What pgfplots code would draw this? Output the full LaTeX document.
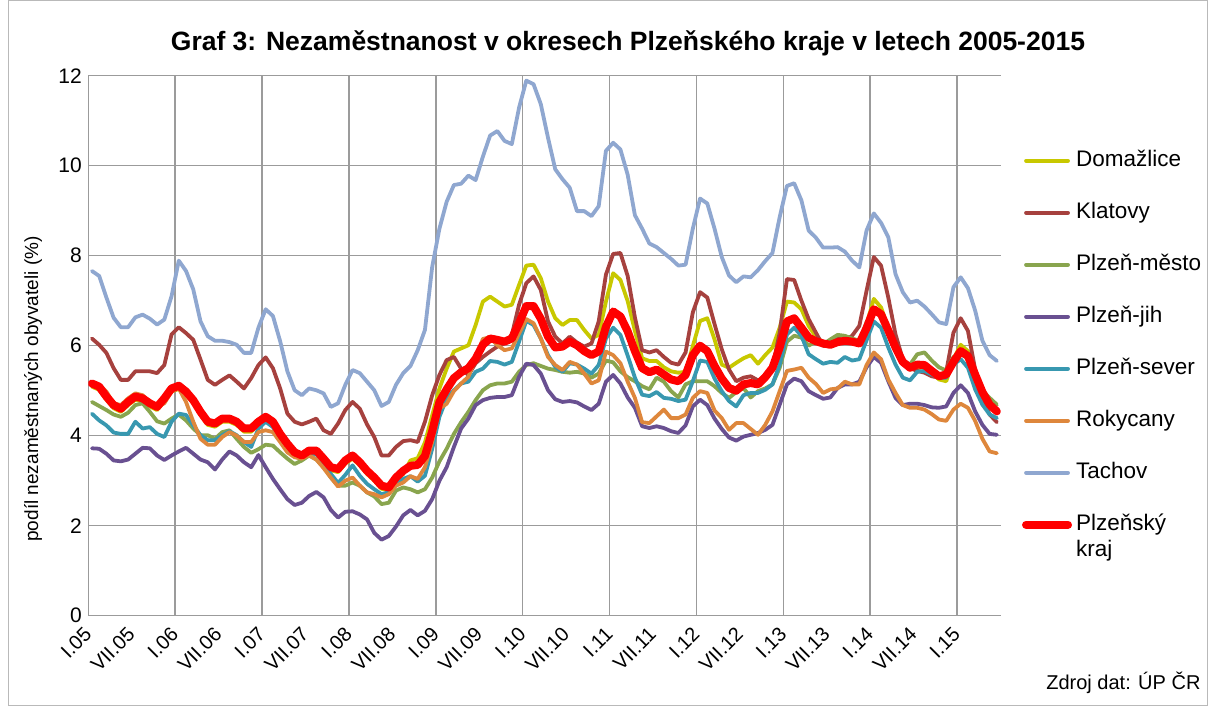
\documentclass[border=0pt]{standalone}
\usepackage{fontspec}
\setmainfont{Liberation Sans}
\usepackage{pgfplots}
\usepackage{pgfplotstable}
\pgfplotsset{compat=1.18}
\definecolor{cdom}{RGB}{200,200,0}
\definecolor{ckla}{RGB}{166,65,62}
\definecolor{cpme}{RGB}{137,165,78}
\definecolor{cpji}{RGB}{105,80,145}
\definecolor{cpse}{RGB}{56,152,176}
\definecolor{crok}{RGB}{222,135,60}
\definecolor{ctac}{RGB}{143,167,208}
\definecolor{ckraj}{RGB}{255,0,0}
\definecolor{gridc}{RGB}{155,155,155}
\pgfplotstableread{
i dom kla pme pji pse rok tac kraj
0 5.09 6.16 4.75 3.72 4.49 5.20 7.66 5.16
1 5.02 6.02 4.66 3.71 4.34 5.13 7.55 5.09
2 4.80 5.84 4.57 3.60 4.23 4.98 7.07 4.87
3 4.61 5.50 4.47 3.45 4.07 4.72 6.62 4.68
4 4.53 5.24 4.42 3.43 4.04 4.68 6.41 4.60
5 4.68 5.24 4.51 3.47 4.04 4.83 6.41 4.75
6 4.80 5.43 4.68 3.60 4.31 4.94 6.63 4.87
7 4.76 5.43 4.72 3.73 4.16 4.90 6.69 4.83
8 4.65 5.43 4.53 3.72 4.19 4.75 6.60 4.72
9 4.57 5.39 4.32 3.56 4.04 4.64 6.47 4.64
10 4.76 5.57 4.27 3.46 3.97 4.72 6.58 4.83
11 4.98 6.25 4.38 3.56 4.31 4.98 7.10 5.05
12 5.04 6.41 4.47 3.65 4.49 5.05 7.89 5.11
13 4.91 6.28 4.34 3.73 4.46 4.75 7.66 4.98
14 4.72 6.13 4.16 3.60 4.23 4.31 7.25 4.79
15 4.46 5.69 4.01 3.47 4.01 3.93 6.54 4.53
16 4.24 5.24 4.01 3.41 3.90 3.80 6.21 4.31
17 4.20 5.13 3.93 3.25 3.90 3.80 6.11 4.27
18 4.31 5.24 4.08 3.47 4.01 3.97 6.11 4.38
19 4.31 5.34 4.12 3.65 4.10 4.08 6.08 4.38
20 4.24 5.20 3.93 3.56 4.01 4.00 6.02 4.31
21 4.09 5.05 3.75 3.41 3.86 3.86 5.84 4.16
22 4.09 5.28 3.62 3.30 3.75 3.86 5.84 4.16
23 4.24 5.57 3.70 3.57 4.16 4.08 6.40 4.31
24 4.35 5.74 3.80 3.30 4.31 4.12 6.81 4.42
25 4.24 5.50 3.78 3.04 4.19 4.08 6.66 4.31
26 3.97 5.05 3.63 2.81 3.93 3.86 6.10 4.04
27 3.75 4.49 3.49 2.59 3.69 3.63 5.43 3.82
28 3.56 4.31 3.37 2.46 3.56 3.52 5.01 3.63
29 3.49 4.25 3.45 2.51 3.52 3.49 4.90 3.56
30 3.60 4.31 3.56 2.66 3.63 3.56 5.05 3.67
31 3.60 4.38 3.47 2.75 3.58 3.47 5.01 3.67
32 3.42 4.12 3.30 2.63 3.40 3.28 4.94 3.49
33 3.23 4.04 3.07 2.35 3.15 3.07 4.64 3.30
34 3.19 4.27 2.89 2.18 2.95 2.87 4.72 3.26
35 3.38 4.57 2.89 2.31 3.13 3.00 5.13 3.45
36 3.49 4.75 2.96 2.32 3.34 3.07 5.46 3.56
37 3.34 4.60 2.89 2.25 3.11 2.89 5.39 3.41
38 3.15 4.25 2.74 2.14 2.93 2.74 5.20 3.22
39 3.00 3.97 2.65 1.84 2.81 2.70 5.01 3.07
40 2.82 3.56 2.48 1.69 2.70 2.63 4.66 2.89
41 2.78 3.56 2.51 1.77 2.74 2.70 4.75 2.85
42 3.00 3.75 2.78 1.98 2.91 2.89 5.13 3.07
43 3.15 3.88 2.85 2.23 3.04 2.96 5.39 3.22
44 3.45 3.90 2.81 2.35 3.10 3.10 5.55 3.33
45 3.50 3.86 2.74 2.23 2.98 3.04 5.90 3.35
46 3.85 4.31 2.81 2.33 3.11 3.30 6.35 3.55
47 4.45 4.90 3.07 2.59 3.71 3.86 7.75 4.10
48 5.05 5.35 3.43 3.00 4.42 4.60 8.60 4.75
49 5.49 5.68 3.71 3.30 4.83 4.71 9.20 5.03
50 5.87 5.75 4.04 3.75 5.01 4.99 9.57 5.28
51 5.94 5.49 4.30 4.16 5.16 5.16 9.60 5.41
52 6.01 5.35 4.53 4.38 5.20 5.31 9.78 5.50
53 6.46 5.61 4.79 4.68 5.42 5.72 9.68 5.71
54 6.98 5.75 5.01 4.79 5.49 6.15 10.20 6.02
55 7.09 5.87 5.12 4.84 5.66 6.19 10.67 6.16
56 6.98 5.98 5.16 4.86 5.64 6.01 10.77 6.13
57 6.87 6.05 5.16 4.86 5.58 5.90 10.55 6.09
58 6.91 6.24 5.20 4.90 5.64 5.94 10.48 6.16
59 7.35 6.91 5.42 5.31 6.09 6.27 11.29 6.50
60 7.78 7.39 5.57 5.60 6.55 6.59 11.89 6.88
61 7.80 7.54 5.61 5.57 6.46 6.50 11.81 6.88
62 7.50 7.24 5.55 5.38 6.16 6.16 11.37 6.60
63 6.98 6.54 5.49 5.01 5.79 5.75 10.62 6.20
64 6.61 6.20 5.46 4.81 5.53 5.57 9.92 5.96
65 6.46 6.05 5.42 4.75 5.42 5.46 9.70 5.98
66 6.57 6.20 5.40 4.77 5.61 5.64 9.51 6.09
67 6.57 6.07 5.42 4.74 5.58 5.58 8.99 6.01
68 6.35 5.98 5.38 4.65 5.49 5.38 8.99 5.88
69 6.16 6.05 5.29 4.57 5.38 5.16 8.88 5.79
70 6.24 6.54 5.38 4.71 5.57 5.23 9.10 5.87
71 6.98 7.58 5.67 5.20 6.16 5.87 10.33 6.42
72 7.61 8.04 5.63 5.35 6.40 5.79 10.51 6.76
73 7.46 8.06 5.43 5.16 6.24 5.61 10.36 6.65
74 6.99 7.55 5.30 4.85 5.78 5.20 9.80 6.32
75 6.33 6.63 5.21 4.62 5.29 4.84 8.90 5.88
76 5.72 5.90 5.10 4.21 4.91 4.30 8.60 5.50
77 5.66 5.85 5.03 4.17 4.88 4.28 8.27 5.41
78 5.66 5.90 5.29 4.21 4.97 4.43 8.19 5.47
79 5.52 5.75 5.20 4.17 4.84 4.58 8.06 5.36
80 5.43 5.62 4.99 4.10 4.82 4.39 7.93 5.25
81 5.40 5.58 4.85 4.06 4.77 4.39 7.78 5.21
82 5.42 5.85 5.14 4.23 4.80 4.47 7.80 5.35
83 5.99 6.74 5.21 4.65 5.21 4.84 8.60 5.79
84 6.55 7.19 5.21 4.80 5.67 4.99 9.27 6.00
85 6.61 7.07 5.21 4.68 5.64 4.95 9.16 5.88
86 6.14 6.48 5.10 4.38 5.27 4.56 8.60 5.55
87 5.58 5.92 4.95 4.15 4.99 4.39 7.97 5.27
88 5.51 5.47 4.84 3.96 4.77 4.13 7.56 5.06
89 5.62 5.21 4.97 3.89 4.65 4.28 7.41 5.00
90 5.72 5.29 5.06 3.98 4.90 4.28 7.54 5.14
91 5.79 5.32 4.85 4.02 4.95 4.15 7.52 5.17
92 5.60 5.23 4.99 4.06 4.95 4.02 7.68 5.14
93 5.79 5.29 5.05 4.13 5.02 4.24 7.88 5.30
94 5.96 5.52 5.14 4.24 5.14 4.54 8.06 5.51
95 6.40 6.29 5.51 4.69 5.58 4.99 8.86 5.96
96 6.98 7.48 6.09 5.14 6.25 5.44 9.55 6.54
97 6.96 7.46 6.22 5.27 6.40 5.47 9.61 6.61
98 6.81 7.00 6.18 5.21 6.22 5.51 9.23 6.40
99 6.44 6.59 6.00 4.99 5.81 5.29 8.56 6.18
100 6.20 6.29 6.10 4.90 5.70 5.15 8.40 6.10
101 6.07 5.99 6.03 4.82 5.60 4.95 8.18 6.05
102 6.07 6.07 6.14 4.85 5.64 5.03 8.18 6.02
103 6.14 6.16 6.24 5.06 5.62 5.05 8.19 6.08
104 6.14 6.12 6.22 5.14 5.75 5.20 8.09 6.11
105 6.12 6.22 6.16 5.14 5.67 5.14 7.89 6.09
106 6.07 6.44 6.11 5.20 5.70 5.14 7.74 6.05
107 6.48 7.22 6.52 5.52 6.12 5.57 8.56 6.39
108 7.04 7.97 6.76 5.75 6.54 5.85 8.94 6.81
109 6.85 7.78 6.66 5.62 6.40 5.70 8.73 6.70
110 6.40 7.07 6.29 5.21 5.96 5.25 8.41 6.34
111 5.96 6.25 5.96 4.84 5.58 4.95 7.59 5.96
112 5.62 5.70 5.67 4.68 5.29 4.68 7.19 5.64
113 5.47 5.50 5.58 4.71 5.23 4.62 6.96 5.51
114 5.51 5.44 5.81 4.71 5.42 4.62 7.00 5.58
115 5.51 5.40 5.85 4.68 5.44 4.58 6.87 5.57
116 5.40 5.32 5.67 4.63 5.36 4.48 6.70 5.44
117 5.25 5.29 5.52 4.62 5.29 4.36 6.52 5.32
118 5.21 5.42 5.45 4.65 5.29 4.33 6.48 5.36
119 5.70 6.29 5.75 4.95 5.58 4.58 7.30 5.64
120 6.02 6.61 5.81 5.12 5.70 4.71 7.52 5.88
121 5.88 6.33 5.73 4.95 5.51 4.62 7.28 5.77
122 5.40 5.47 5.29 4.54 5.03 4.33 6.78 5.36
123 4.99 4.84 5.00 4.24 4.69 3.93 6.11 4.97
124 4.73 4.47 4.84 4.04 4.47 3.65 5.79 4.69
125 4.58 4.30 4.69 4.02 4.39 3.61 5.66 4.54
}\data

\begin{document}
\begin{tikzpicture}
\useasboundingbox (0pt,0pt) rectangle (1208pt,706pt);
\draw[gridc!70, line width=1pt] (8.5pt,0.5pt) rectangle (1207.5pt,705.5pt);
\begin{axis}[
  at={(88.3pt,90.3pt)}, anchor=south west,
  scale only axis, width=912.2pt, height=540pt,
  xmin=-0.5, xmax=125.5, ymin=0, ymax=12,
  axis x line*=bottom, axis y line*=left,
  axis line style={-, draw=gridc, line width=1.5pt},
  major tick length=0pt,
  xtick={0,6,...,120},
  xticklabels={I.05,VII.05,I.06,VII.06,I.07,VII.07,I.08,VII.08,I.09,VII.09,I.10,VII.10,I.11,VII.11,I.12,VII.12,I.13,VII.13,I.14,VII.14,I.15},
  extra x ticks={-0.5,11.5,23.5,35.5,47.5,59.5,71.5,83.5,95.5,107.5,119.5},
  extra x tick labels={},
  extra x tick style={grid=major, major tick length=0pt},
  ytick={0,2,...,12},
  ymajorgrids,
  major grid style={draw=gridc, line width=1.5pt},
  /pgf/number format/assume math mode=true,
  xticklabel style={font=\fontsize{20}{24}\selectfont, xshift=-4pt, yshift=-15pt, rotate=45, anchor=east, inner sep=0pt},
  yticklabel style={font=\fontsize{21}{25}\selectfont, xshift=-3pt},
  legend style={at={(axis description cs:1.0236,0.862)}, anchor=north west,
    draw=none, fill=none, inner sep=0pt, outer sep=0pt,
    row sep=31pt, column sep=4pt,
    font=\fontsize{22.5}{26}\selectfont,
    nodes={inner sep=0pt, text height=16pt, text depth=5pt}},
  legend cell align=left,
  legend image code/.code={\draw[#1] (-2pt,0pt) -- (40pt,0pt);},
  every axis plot/.append style={line join=round, line cap=round},
]
\addplot[cdom, line width=3.8pt] table[x=i,y=dom]{\data};
\addlegendentry{Domažlice}
\addplot[ckla, line width=3.8pt] table[x=i,y=kla]{\data};
\addlegendentry{Klatovy}
\addplot[cpme, line width=3.8pt] table[x=i,y=pme]{\data};
\addlegendentry{Plzeň-město}
\addplot[cpji, line width=3.8pt] table[x=i,y=pji]{\data};
\addlegendentry{Plzeň-jih}
\addplot[cpse, line width=3.8pt] table[x=i,y=pse]{\data};
\addlegendentry{Plzeň-sever}
\addplot[crok, line width=3.8pt] table[x=i,y=rok]{\data};
\addlegendentry{Rokycany}
\addplot[ctac, line width=3.8pt] table[x=i,y=tac]{\data};
\addlegendentry{Tachov}
\addplot[ckraj, line width=8pt] table[x=i,y=kraj]{\data};
\addlegendentry{\smash{\begin{tabular}[t]{@{}l@{}}Plzeňský\\kraj\end{tabular}}}
\end{axis}
\node[font=\bfseries\fontsize{26.5}{30}\selectfont] at (628pt,663pt) {Graf 3: Nezaměstnanost v okresech Plzeňského kraje v letech 2005-2015};
\node[rotate=90, font=\fontsize{19}{23}\selectfont] at (33pt,317pt) {podíl nezaměstnaných obyvateli (\%)};
\node[anchor=east, font=\fontsize{20}{24}\selectfont] at (1204pt,23pt) {Zdroj dat: ÚP ČR};
\end{tikzpicture}
\end{document}
